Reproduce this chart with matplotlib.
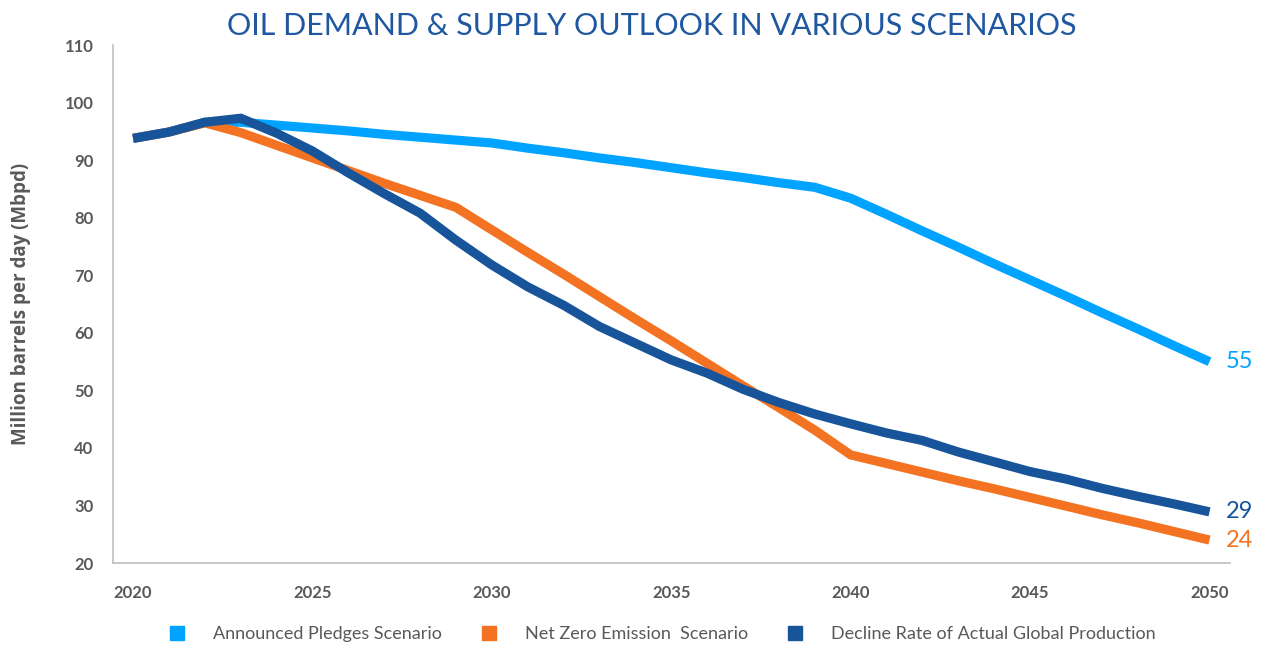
import matplotlib
matplotlib.use("Agg")
import matplotlib.pyplot as plt
from matplotlib.lines import Line2D

years = list(range(2020, 2051))

announced_pledges = [93.8, 94.9, 96.6, 96.6, 96.1, 95.6, 95.1, 94.5, 94.0, 93.5,
                     93.0, 92.1, 91.3, 90.4, 89.6, 88.7, 87.8, 87.0, 86.1, 85.3,
                     83.4, 80.6, 77.7, 74.9, 72.0, 69.2, 66.4, 63.5, 60.7, 57.8, 55.0]

net_zero = [93.8, 94.9, 96.5, 94.8, 92.6, 90.4, 88.2, 86.0, 83.9, 81.8,
            77.9, 74.0, 70.2, 66.3, 62.4, 58.6, 54.7, 50.8, 47.0, 43.1,
            38.8, 37.3, 35.8, 34.3, 32.9, 31.4, 29.9, 28.4, 27.0, 25.5, 24.0]

decline_rate = [93.8, 94.9, 96.6, 97.3, 94.7, 91.6, 87.8, 84.2, 80.8, 76.1,
                71.8, 68.0, 64.8, 61.1, 58.2, 55.3, 53.0, 50.2, 47.9, 45.9,
                44.2, 42.6, 41.3, 39.3, 37.6, 35.9, 34.6, 33.0, 31.6, 30.3, 28.9]

series_names = ["Announced Pledges Scenario", "Net Zero Emission  Scenario",
                "Decline Rate of Actual Global Production"]
end_labels = ["55", "24", "29"]

yticks = list(range(20, 111, 10))
xticks = [2020, 2025, 2030, 2035, 2040, 2045, 2050]

colors = ["#00A3FF", "#F47322", "#17549A"]
gray = "#595959"
font = "Lato"

fig = plt.figure(figsize=(12.61, 6.45), dpi=100)
ax = fig.add_axes([0.0896, 0.127, 0.8855, 0.803])

data = [announced_pledges, net_zero, decline_rate]
for vals, c, name in zip(data, colors, series_names):
    ax.plot(years, vals, color=c, lw=6.6, solid_joinstyle="miter",
            solid_capstyle="butt", label=name)

for vals, c, lab in zip(data, colors, end_labels):
    ax.annotate(lab, xy=(years[-1], vals[-1]), xytext=(12, 0),
                textcoords="offset points", ha="left", va="center",
                color=c, fontsize=17, family=font, annotation_clip=False)

ax.set_xlim(2019.44, 2050.56)
ax.set_ylim(20, 110)
ax.set_yticks(yticks)
ax.set_xticks(xticks)
ax.tick_params(length=0, labelsize=12, labelcolor=gray)
for lbl in ax.get_xticklabels() + ax.get_yticklabels():
    lbl.set_fontweight("bold")
    lbl.set_family(font)
ax.tick_params(axis="x", pad=16)
ax.tick_params(axis="y", pad=14)

for s in ["top", "right"]:
    ax.spines[s].set_visible(False)
for s in ["left", "bottom"]:
    ax.spines[s].set_color("#BFBFBF")
    ax.spines[s].set_linewidth(1.2)

ax.set_ylabel("Million barrels per day (Mbpd)", fontsize=13.5, fontweight="bold",
              color=gray, family="Open Sans", labelpad=24)

fig.text(0.517, 0.96, "OIL DEMAND & SUPPLY OUTLOOK IN VARIOUS SCENARIOS",
         ha="center", va="center", fontsize=22, color="#1F57A0", family=font)

handles = [Line2D([], [], marker="s", linestyle="none", markersize=9.5,
                  markerfacecolor=c, markeredgecolor=c) for c in colors]
leg = fig.legend(handles, series_names, loc="center", ncol=3,
                 bbox_to_anchor=(0.521, 0.017), frameon=False,
                 handletextpad=1.0, columnspacing=1.6,
                 prop={"family": font, "size": 13})
for t in leg.get_texts():
    t.set_color(gray)

fig.savefig("out.png", dpi=100)
